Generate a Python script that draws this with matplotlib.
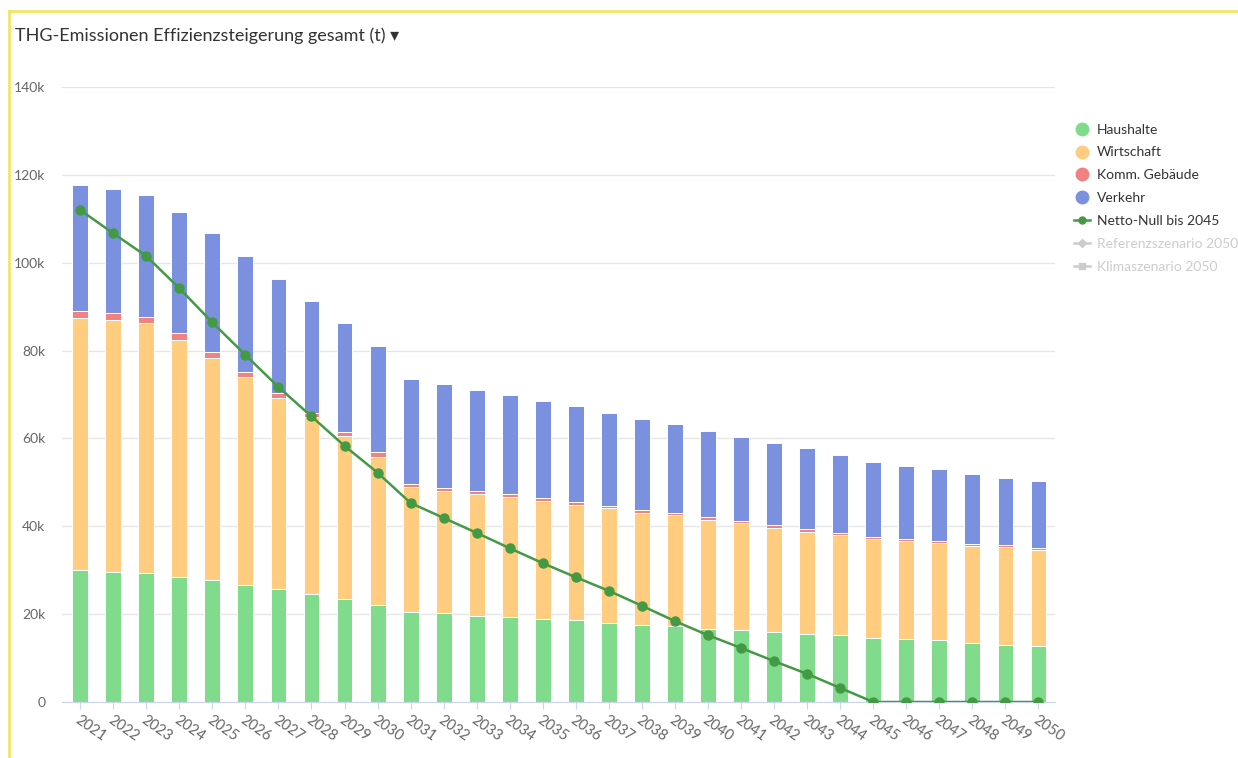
import matplotlib.pyplot as plt
from matplotlib.lines import Line2D
import numpy as np

plt.rcParams['font.family'] = ['Lato', 'DejaVu Sans']

years = list(range(2021, 2051))

# values in tonnes
haushalte = [30000, 29600, 29400, 28500, 27800, 26600, 25700, 24600, 23400, 22000,
             20500, 20200, 19600, 19300, 18900, 18700, 18000, 17500, 17300, 16600,
             16400, 15900, 15500, 15200, 14600, 14300, 14100, 13400, 13000, 12700]
wirtschaft = [57400, 57300, 56900, 53900, 50500, 47400, 43500, 40300, 37100, 33800,
              28400, 27800, 27700, 27400, 26800, 26100, 26200, 25500, 25200, 24900,
              24300, 23700, 23200, 22800, 22500, 22300, 22000, 22100, 22300, 21900]
komm_gebaeude = [1600, 1600, 1300, 1600, 1400, 1100, 1100, 900, 900, 1000,
                 800, 800, 700, 600, 700, 700, 500, 600, 500, 600,
                 600, 600, 600, 500, 500, 500, 500, 500, 500, 500]
verkehr = [28700, 28300, 27800, 27600, 27000, 26400, 26000, 25500, 24900, 24200,
           23800, 23600, 23000, 22600, 22100, 21900, 21100, 20800, 20300, 19500,
           19100, 18700, 18500, 17800, 17000, 16700, 16400, 15900, 15300, 15200]
netto_null = [112000, 106700, 101500, 94200, 86400, 79000, 71700, 65000, 58300, 52200,
              45300, 41900, 38500, 35000, 31600, 28400, 25300, 21900, 18400, 15200,
              12300, 9300, 6400, 3200, 0, 0, 0, 0, 0, 0]

c_haus = '#80dc8c'
c_wirt = '#ffcc80'
c_komm = '#f28282'
c_verk = '#7b91e0'
c_line = '#449a44'
txt = '#666666'

fig = plt.figure(figsize=(12.38, 7.58), dpi=100)
ax = fig.add_axes([62 / 1238, 1 - 702 / 758, (1055 - 62) / 1238, (702 - 87) / 758])

x = np.arange(len(years))
w = 0.48
b1 = np.array(haushalte)
b2 = b1 + np.array(wirtschaft)
b3 = b2 + np.array(komm_gebaeude)
ax.bar(x, haushalte, w, color=c_haus, edgecolor='white', linewidth=0.7, zorder=2)
ax.bar(x, wirtschaft, w, bottom=b1, color=c_wirt, edgecolor='white', linewidth=0.7, zorder=2)
ax.bar(x, komm_gebaeude, w, bottom=b2, color=c_komm, edgecolor='white', linewidth=0.7, zorder=2)
ax.bar(x, verkehr, w, bottom=b3, color=c_verk, edgecolor='white', linewidth=0.7, zorder=2)
ax.plot(x, netto_null, color=c_line, lw=1.8, marker='o', ms=6.5, zorder=3)

ax.set_xlim(-0.55, 29.5)
ax.set_ylim(0, 140000)
ax.set_yticks(range(0, 140001, 20000))
ax.set_yticklabels(['0'] + [f'{v}k' for v in range(20, 141, 20)])
ax.yaxis.grid(True, color='#e6e6e6', lw=1)
ax.set_axisbelow(True)
for s in ['top', 'right', 'left']:
    ax.spines[s].set_visible(False)
ax.spines['bottom'].set_color('#ccd6eb')
ax.tick_params(axis='y', length=0, pad=12, labelsize=10, labelcolor=txt)
ax.tick_params(axis='x', length=5, color='#ccd6eb', labelsize=10.5, labelcolor=txt, pad=3)
ax.set_xticks(x)
ax.set_xticklabels([str(y) for y in years], rotation=-35, ha='left', va='top',
                   rotation_mode='anchor')

fig.text(15 / 1238, 1 - 36 / 758, 'THG-Emissionen Effizienzsteigerung gesamt (t) \u25be',
         fontsize=13, color='#333333', va='center', ha='left')

handles = [
    Line2D([], [], ls='none', marker='o', ms=9, color=c_haus),
    Line2D([], [], ls='none', marker='o', ms=9, color=c_wirt),
    Line2D([], [], ls='none', marker='o', ms=9, color=c_komm),
    Line2D([], [], ls='none', marker='o', ms=9, color=c_verk),
    Line2D([], [], color=c_line, lw=1.8, marker='o', ms=5),
    Line2D([], [], color='#cccccc', lw=1.8, marker='D', ms=4),
    Line2D([], [], color='#cccccc', lw=1.8, marker='s', ms=4.5),
]
labels = ['Haushalte', 'Wirtschaft', 'Komm. Gebäude', 'Verkehr', 'Netto-Null bis 2045',
          'Referenzszenario 2050', 'Klimaszenario 2050']
leg = fig.legend(handles, labels, loc='upper left', bbox_to_anchor=(1068 / 1238, 1 - 118 / 758),
                 frameon=False, fontsize=10, handlelength=1.2, handletextpad=0.5,
                 labelspacing=0.78, borderaxespad=0)
for i, t in enumerate(leg.get_texts()):
    t.set_color('#cccccc' if i >= 5 else '#333333')

# yellow frame at top and left
fig.add_artist(Line2D([9 / 1238, 9 / 1238], [0, 1 - 11 / 758], color='#f2e566', lw=2))
fig.add_artist(Line2D([9 / 1238, 1], [1 - 11 / 758, 1 - 11 / 758], color='#f2e566', lw=2))

fig.savefig('out.png', dpi=100, facecolor='white')
